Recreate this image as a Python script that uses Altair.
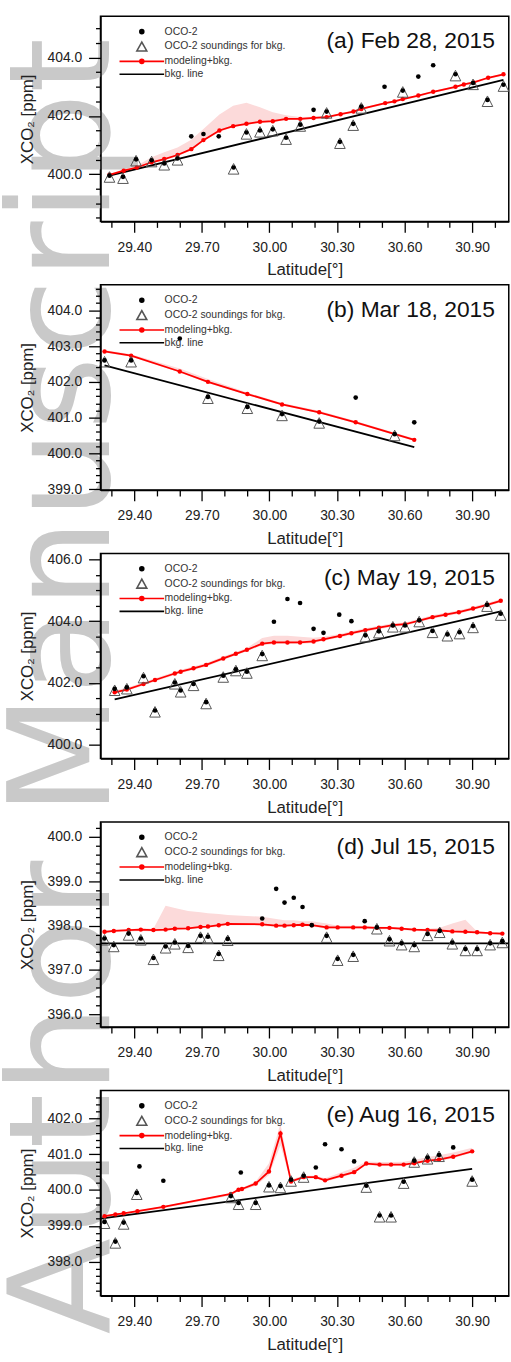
import altair as alt
import pandas as pd

FONT = "Liberation Sans"
WM_FONT = "DejaVu Sans"
PINK = "#fcdada"

# ---------------- data ----------------
panel_labels = ["(a) Feb 28, 2015", "(b) Mar 18, 2015", "(c) May 19, 2015",
                "(d) Jul 15, 2015", "(e) Aug 16, 2015"]
legend_labels = ["OCO-2", "OCO-2 soundings for bkg.", "modeling+bkg.", "bkg. line"]
watermark = ["Author Manuscript"]

# (a) Feb 28, 2015
a_mod_lat = [29.290, 29.353, 29.411, 29.477, 29.533, 29.592, 29.653, 29.707, 29.778, 29.839,
             29.898, 29.958, 30.015, 30.074, 30.137, 30.196, 30.254, 30.316, 30.373, 30.408,
             30.514, 30.555, 30.592, 30.661, 30.727, 30.826, 30.863, 30.907, 30.971, 31.039]
a_mod_val = [399.98, 400.12, 400.23, 400.41, 400.52, 400.66, 400.86, 401.17, 401.50, 401.65,
             401.73, 401.80, 401.82, 401.90, 401.90, 401.93, 401.96, 402.06, 402.15, 402.24,
             402.44, 402.50, 402.58, 402.70, 402.83, 403.00, 403.08, 403.15, 403.31, 403.43]
a_band_hi = [400.02, 400.16, 400.29, 400.58, 400.75, 400.92, 401.18, 401.55, 402.05, 402.35,
             402.45, 402.30, 402.13, 402.02, 401.96, 401.97, 401.99, 402.09, 402.18, 402.27,
             402.47, 402.53, 402.61, 402.73, 402.86, 403.03, 403.11, 403.18, 403.34, 403.46]
a_band_lo = [399.94, 400.08, 400.19, 400.37, 400.48, 400.62, 400.82, 401.13, 401.46, 401.61,
             401.69, 401.76, 401.78, 401.86, 401.86, 401.89, 401.92, 402.02, 402.11, 402.20,
             402.40, 402.46, 402.54, 402.66, 402.79, 402.96, 403.04, 403.11, 403.27, 403.39]
a_obs_lat = [29.290, 29.350, 29.408, 29.477, 29.533, 29.592, 29.653, 29.707, 29.775, 29.841,
             29.898, 29.958, 30.015, 30.074, 30.137, 30.196, 30.254, 30.313, 30.372, 30.408,
             30.511, 30.592, 30.661, 30.727, 30.826, 30.904, 30.968, 31.039]
a_obs_val = [399.95, 399.91, 400.51, 400.48, 400.37, 400.54, 401.30, 401.38, 401.30, 400.23,
             401.43, 401.50, 401.54, 401.25, 401.70, 402.21, 402.15, 401.11, 401.73, 402.32,
             403.00, 402.87, 403.35, 403.74, 403.43, 403.13, 402.55, 403.07]
a_obs_bkg = [1, 1, 1, 1, 1, 1, 0, 0, 0, 1, 1, 1, 1, 1, 1, 0, 1, 1, 1, 1, 0, 1, 0, 0, 1, 1, 1, 1]
a_bkg_lat = [29.290, 31.039]
a_bkg_val = [399.95, 403.24]

# (b) Mar 18, 2015
b_mod_lat = [29.268, 29.386, 29.602, 29.727, 29.902, 30.056, 30.221, 30.383, 30.643]
b_mod_val = [402.85, 402.73, 402.29, 402.00, 401.66, 401.37, 401.15, 400.87, 400.38]
b_band_hi = [402.89, 402.77, 402.37, 402.08, 401.70, 401.41, 401.19, 400.91, 400.42]
b_band_lo = [402.82, 402.70, 402.26, 401.97, 401.63, 401.34, 401.12, 400.84, 400.35]
b_obs_lat = [29.268, 29.386, 29.602, 29.727, 29.902, 30.056, 30.221, 30.383, 30.556, 30.643]
b_obs_val = [402.60, 402.60, 403.21, 401.58, 401.30, 401.10, 400.89, 401.56, 400.54, 400.87]
b_obs_bkg = [1, 1, 0, 1, 1, 1, 1, 0, 1, 0]
b_bkg_lat = [29.268, 30.643]
b_bkg_val = [402.46, 400.18]

# (c) May 19, 2015
c_mod_lat = [29.313, 29.367, 29.441, 29.492, 29.580, 29.606, 29.663, 29.719, 29.795, 29.851,
             29.900, 29.968, 30.020, 30.080, 30.136, 30.196, 30.240, 30.313, 30.364, 30.426,
             30.486, 30.548, 30.602, 30.665, 30.724, 30.782, 30.841, 30.904, 30.966, 31.027]
c_mod_val = [401.69, 401.78, 401.96, 402.09, 402.30, 402.36, 402.47, 402.58, 402.79, 402.94,
             403.07, 403.27, 403.31, 403.31, 403.31, 403.34, 403.41, 403.52, 403.61, 403.71,
             403.79, 403.87, 403.90, 404.02, 404.13, 404.21, 404.29, 404.41, 404.53, 404.66]
c_band_hi = [401.75, 401.84, 402.02, 402.15, 402.36, 402.42, 402.53, 402.64, 402.85, 403.00,
             403.13, 403.45, 403.53, 403.53, 403.49, 403.46, 403.49, 403.58, 403.67, 403.77,
             403.85, 403.93, 403.96, 404.08, 404.19, 404.27, 404.35, 404.47, 404.59, 404.72]
c_band_lo = [401.64, 401.73, 401.91, 402.04, 402.25, 402.31, 402.42, 402.53, 402.74, 402.89,
             403.02, 403.22, 403.26, 403.26, 403.26, 403.29, 403.36, 403.47, 403.56, 403.66,
             403.74, 403.82, 403.85, 403.97, 404.08, 404.16, 404.24, 404.36, 404.48, 404.61]
c_obs_lat = [29.313, 29.367, 29.441, 29.492, 29.580, 29.606, 29.663, 29.719, 29.795, 29.851,
             29.900, 29.968, 30.020, 30.080, 30.136, 30.196, 30.240, 30.310, 30.364, 30.426,
             30.486, 30.548, 30.602, 30.665, 30.724, 30.790, 30.844, 30.904, 30.966, 31.027]
c_obs_val = [401.80, 401.85, 402.21, 401.10, 402.01, 401.75, 401.96, 401.37, 402.23, 402.44,
             402.36, 402.93, 403.98, 404.72, 404.59, 403.75, 403.62, 404.21, 404.00, 403.54,
             403.67, 403.86, 403.86, 404.03, 403.68, 403.57, 403.64, 403.84, 404.53, 404.24]
c_obs_bkg = [1, 1, 1, 1, 1, 1, 1, 1, 1, 1, 1, 1, 0, 0, 0, 0, 0, 0, 0, 1,
             1, 1, 1, 1, 1, 1, 1, 1, 1, 1]
c_bkg_lat = [29.313, 31.027]
c_bkg_val = [401.46, 404.32]

# (d) Jul 15, 2015
d_mod_lat = [29.268, 29.309, 29.375, 29.429, 29.485, 29.539, 29.580, 29.639, 29.694, 29.727,
             29.775, 29.815, 29.968, 30.030, 30.067, 30.108, 30.147, 30.188, 30.254, 30.303,
             30.372, 30.423, 30.477, 30.533, 30.587, 30.643, 30.702, 30.756, 30.812, 30.870,
             30.922, 30.980, 31.034]
d_mod_val = [397.86, 397.88, 397.90, 397.91, 397.90, 397.91, 397.93, 397.94, 397.97, 397.98,
             398.01, 398.04, 398.03, 398.00, 398.00, 398.01, 398.02, 398.01, 397.96, 397.96,
             397.96, 397.96, 397.95, 397.95, 397.93, 397.91, 397.90, 397.89, 397.87, 397.86,
             397.85, 397.83, 397.82]
d_band_hi = [397.89, 397.90, 397.92, 397.94, 397.93, 398.45, 398.40, 398.33, 398.30, 398.28,
             398.26, 398.24, 398.20, 398.15, 398.12, 398.12, 398.10, 398.10, 398.05, 398.00,
             398.00, 397.99, 397.98, 397.97, 397.95, 397.93, 397.93, 397.95, 398.05, 398.13,
             397.87, 397.85, 397.84]
d_band_lo = [397.83, 397.85, 397.87, 397.88, 397.87, 397.88, 397.90, 397.91, 397.94, 397.95,
             397.98, 398.01, 398.00, 397.97, 397.97, 397.98, 397.99, 397.98, 397.93, 397.93,
             397.93, 397.93, 397.92, 397.92, 397.90, 397.88, 397.87, 397.86, 397.84, 397.83,
             397.82, 397.80, 397.79]
d_obs_lat = [29.268, 29.309, 29.375, 29.429, 29.485, 29.539, 29.580, 29.639, 29.694, 29.727,
             29.775, 29.815, 29.968, 30.030, 30.067, 30.108, 30.147, 30.188, 30.254, 30.303,
             30.372, 30.423, 30.477, 30.533, 30.587, 30.643, 30.702, 30.756, 30.812, 30.870,
             30.922, 30.980, 31.034]
d_obs_val = [397.71, 397.56, 397.82, 397.71, 397.27, 397.53, 397.62, 397.54, 397.77, 397.75,
             397.36, 397.70, 398.16, 398.83, 398.52, 398.63, 398.42, 398.01, 397.77, 397.25,
             397.34, 398.10, 397.96, 397.69, 397.60, 397.56, 397.81, 397.88, 397.62, 397.47,
             397.47, 397.60, 397.65]
d_obs_bkg = [1, 1, 1, 1, 1, 1, 1, 1, 1, 1, 1, 1, 0, 0, 0, 0, 0, 0, 1, 1,
             1, 0, 1, 1, 1, 1, 1, 1, 1, 1, 1, 1, 1]
d_bkg_lat = [29.25, 31.06]
d_bkg_val = [397.60, 397.60]

# (e) Aug 16, 2015
e_mod_lat = [29.268, 29.316, 29.353, 29.414, 29.529, 29.829, 29.863, 29.878, 29.939, 29.998,
             30.049, 30.096, 30.152, 30.206, 30.247, 30.320, 30.376, 30.430, 30.489, 30.540,
             30.596, 30.643, 30.702, 30.753, 30.816, 30.900]
e_mod_val = [399.27, 399.32, 399.35, 399.41, 399.53, 399.89, 400.01, 400.03, 400.18, 400.52,
             401.58, 400.24, 400.36, 400.36, 400.27, 400.40, 400.50, 400.74, 400.71, 400.71,
             400.71, 400.75, 400.82, 400.85, 400.93, 401.08]
e_band_hi = [399.29, 399.34, 399.37, 399.43, 399.55, 399.91, 400.04, 400.06, 400.24, 400.75,
             401.85, 400.30, 400.40, 400.40, 400.33, 400.50, 400.62, 400.80, 400.78, 400.78,
             400.79, 400.84, 400.92, 400.97, 401.05, 401.18]
e_band_lo = [399.23, 399.28, 399.31, 399.37, 399.49, 399.85, 399.97, 399.99, 400.12, 400.42,
             401.25, 400.20, 400.32, 400.32, 400.23, 400.36, 400.46, 400.70, 400.67, 400.67,
             400.67, 400.71, 400.78, 400.81, 400.89, 401.04]
e_obs_lat = [29.268, 29.316, 29.353, 29.411, 29.423, 29.529, 29.829, 29.863, 29.873, 29.939,
             29.998, 30.049, 30.096, 30.152, 30.206, 30.247, 30.320, 30.376, 30.430, 30.489,
             30.540, 30.596, 30.643, 30.702, 30.753, 30.816, 30.900]
e_obs_val = [399.11, 398.56, 399.09, 399.92, 400.66, 400.26, 399.83, 399.64, 400.49, 399.64,
             400.13, 400.11, 400.29, 400.40, 400.63, 401.28, 401.14, 400.80, 400.12, 399.29,
             399.29, 400.23, 400.82, 400.91, 400.98, 401.19, 400.29]
e_obs_bkg = [1, 1, 1, 1, 0, 0, 1, 1, 0, 1, 1, 1, 1, 1, 0, 0, 0, 0, 1, 1,
             1, 1, 1, 1, 1, 0, 1]
e_bkg_lat = [29.25, 30.900]
e_bkg_val = [399.20, 400.59]

# axis set-up (domains and tick positions)
W = 412
H = 207
x_domain = [29.25, 31.0626]
x_ticks = [round(29.3 + 0.1 * i, 1) for i in range(18)]
y_domains = [[398.38, 405.42], [398.98, 404.71], [399.54, 406.20], [395.71, 400.34], [397.05, 402.78]]
y_major = [2, 1, 2, 1, 1]
y_minor = [0.5, 0.2, 0.5, 0.2, 0.2]

# custom marker paths
TRI = "M0,-0.76L1.02,1.27L-1.02,1.27Z"
DOT = ("M0.4,0A0.4,0.4 0 1,1 -0.4,0A0.4,0.4 0 1,1 0.4,0"
       "M0.15,0A0.15,0.15 0 1,1 -0.15,0A0.15,0.15 0 1,1 0.15,0")
LEG_TRI = "M0,-0.9L1,0.9L-1,0.9Z"
LEG_RED = "M-4.5,0H4.5" + DOT
LEG_BLK = "M-4.5,0H4.5"
legend_shapes = [DOT, LEG_TRI, LEG_RED, LEG_BLK]
legend_colors = ["black", "#555555", "#ff0000", "black"]

WM_SIZE = 142
WM_BASE_X = 9      # baseline of the rotated watermark, relative to the plot's left edge


def yticks(dom, step):
    start = int(dom[0] / step + 0.9999)
    end = int(dom[1] / step)
    return [round(k * step, 2) for k in range(start, end + 1)]


def panel(i, mod_lat, mod_val, band_lo, band_hi, obs_lat, obs_val, obs_bkg, bkg_lat, bkg_val,
          add_watermark=False):
    dom = y_domains[i]
    maj = y_major[i]
    ytest = f"abs(datum.value/{maj} - round(datum.value/{maj})) < 0.001"
    xtest = "abs(datum.value*10/3 - round(datum.value*10/3)) < 0.01"
    xaxis = alt.Axis(values=x_ticks, title="Latitude[°]",
                     labelExpr=f"{xtest} ? format(datum.value, '.2f') : ''",
                     tickSize={"condition": {"test": xtest, "value": 11}, "value": 6},
                     labelPadding=8, titlePadding=8, zindex=2)
    yaxis = alt.Axis(values=yticks(dom, y_minor[i]), title="XCO₂ [ppm]",
                     labelExpr=f"{ytest} ? format(datum.value, '.1f') : ''",
                     tickSize={"condition": {"test": ytest, "value": 12}, "value": 5},
                     labelPadding=7, titlePadding=11, zindex=2)
    xs = alt.Scale(domain=x_domain, nice=False, zero=False)
    ys = alt.Scale(domain=dom, nice=False, zero=False)

    mod_df = pd.DataFrame({"lat": mod_lat, "xco2": mod_val, "lo": band_lo, "hi": band_hi})
    obs_df = pd.DataFrame({"lat": obs_lat, "xco2": obs_val, "bkg": obs_bkg})
    bkg_df = pd.DataFrame({"lat": bkg_lat, "xco2": bkg_val})

    X = alt.X("lat:Q", scale=xs, axis=xaxis)

    layers = []
    if add_watermark:
        layers.append(
            alt.Chart(pd.DataFrame({"t": watermark})).mark_text(
                angle=270, align="left", baseline="alphabetic", fontSize=WM_SIZE,
                font=WM_FONT, color="#c9c9c9").encode(
                x=alt.value(WM_BASE_X), y=alt.value(1330), text="t:N"))

    band = alt.Chart(mod_df).mark_area(color=PINK, opacity=1).encode(
        x=X, y=alt.Y("lo:Q", scale=ys, axis=yaxis), y2="hi:Q")
    bline = alt.Chart(bkg_df).mark_line(color="black", strokeWidth=1.8).encode(
        x=X, y=alt.Y("xco2:Q", scale=ys, axis=yaxis))
    mline = alt.Chart(mod_df).mark_line(color="#ff0000", strokeWidth=1.8).encode(
        x=X, y=alt.Y("xco2:Q", scale=ys, axis=yaxis))
    mpts = alt.Chart(mod_df).mark_circle(color="#ff0000", size=20, opacity=1).encode(
        x=X, y=alt.Y("xco2:Q", scale=ys, axis=yaxis))
    tri = alt.Chart(obs_df).transform_filter("datum.bkg == 1").mark_point(
        shape=TRI, size=110, filled=False, color="#555555", strokeWidth=1, opacity=1).encode(
        x=X, y=alt.Y("xco2:Q", scale=ys, axis=yaxis))
    dots = alt.Chart(obs_df).mark_circle(color="black", size=22, opacity=1).encode(
        x=X, y=alt.Y("xco2:Q", scale=ys, axis=yaxis))

    leg = alt.Legend(title=None, orient="none", legendX=35.7, legendY=9.5, padding=0,
                     labelFont=FONT, labelFontSize=10.5, labelColor="#333333",
                     labelOffset=17, rowPadding=1, symbolStrokeWidth=1.6,
                     symbolOpacity=1, symbolSize=100)
    leg_df = pd.DataFrame({"series": legend_labels})
    legend_layer = alt.Chart(leg_df).mark_point(filled=False, opacity=0, size=100).encode(
        shape=alt.Shape("series:N", scale=alt.Scale(domain=legend_labels, range=legend_shapes),
                        legend=leg),
        color=alt.Color("series:N", scale=alt.Scale(domain=legend_labels, range=legend_colors),
                        legend=leg))

    label = alt.Chart(pd.DataFrame({"t": [panel_labels[i]]})).mark_text(
        align="right", baseline="alphabetic", fontSize=23, font=FONT, color="#111111").encode(
        x=alt.value(398), y=alt.value(32), text="t:N")

    layers += [band, bline, mline, mpts, tri, dots, legend_layer, label]
    return alt.layer(*layers).properties(width=W, height=H)


panels = [
    panel(0, a_mod_lat, a_mod_val, a_band_lo, a_band_hi, a_obs_lat, a_obs_val, a_obs_bkg,
          a_bkg_lat, a_bkg_val, add_watermark=True),
    panel(1, b_mod_lat, b_mod_val, b_band_lo, b_band_hi, b_obs_lat, b_obs_val, b_obs_bkg,
          b_bkg_lat, b_bkg_val),
    panel(2, c_mod_lat, c_mod_val, c_band_lo, c_band_hi, c_obs_lat, c_obs_val, c_obs_bkg,
          c_bkg_lat, c_bkg_val),
    panel(3, d_mod_lat, d_mod_val, d_band_lo, d_band_hi, d_obs_lat, d_obs_val, d_obs_bkg,
          d_bkg_lat, d_bkg_val),
    panel(4, e_mod_lat, e_mod_val, e_band_lo, e_band_hi, e_obs_lat, e_obs_val, e_obs_bkg,
          e_bkg_lat, e_bkg_val),
]

# left bound of the layout is the watermark's text box (0.8 * font size left of its baseline)
left_pad = 100 - (0.8 * WM_SIZE - WM_BASE_X)
# the plot's right border falls just outside the 511 px page
right_pad = 511 - (100 + W + 0.75)

chart = alt.vconcat(*panels, spacing=64, bounds="flush").resolve_scale(
    x="independent", y="independent", color="independent", shape="independent"
).resolve_legend(color="independent", shape="independent").properties(
    padding={"left": left_pad, "top": 9.25, "right": right_pad, "bottom": 0},
    background="white",
).configure_view(stroke="black", strokeWidth=1.5).configure_axis(
    labelFont=FONT, titleFont=FONT, labelFontSize=14, titleFontSize=17,
    titleFontWeight="normal", labelColor="#222222", titleColor="#222222",
    domainColor="black", tickColor="black", domainWidth=1.5, tickWidth=1.3,
    grid=False,
)

chart.save("out.html", embed_options={"renderer": "svg", "actions": False})
